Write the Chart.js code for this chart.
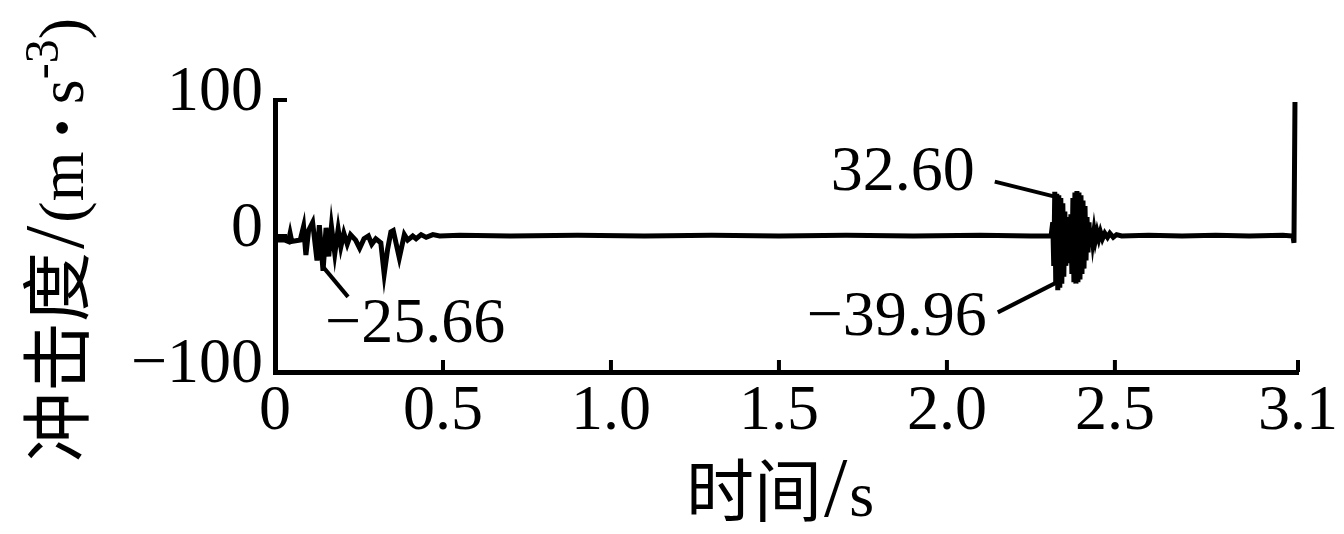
<!DOCTYPE html>
<html>
<head>
<meta charset="utf-8">
<script src="https://cdn.jsdelivr.net/npm/chart.js@4.4.1/dist/chart.umd.min.js"></script>
<style>
  html, body { margin: 0; padding: 0; background: #fff; }
  canvas { display: block; }
</style>
</head>
<body>
<canvas id="chart" width="1344" height="534"></canvas>
<script>
// Jerk signal (time in s, jerk in m/s^3)
const times = [
  0.000, 0.030, 0.040, 0.045, 0.050, 0.075, 0.085, 0.092, 0.100, 0.112,
  0.125, 0.132, 0.143, 0.152, 0.160, 0.168, 0.178, 0.188, 0.196, 0.205,
  0.215, 0.225, 0.240, 0.252, 0.265, 0.278, 0.288, 0.300, 0.315, 0.325,
  0.335, 0.345, 0.352, 0.370, 0.385, 0.395, 0.410, 0.420, 0.435, 0.450,
  0.470, 0.490,
  0.550, 0.700, 0.900, 1.100, 1.300, 1.500, 1.700, 1.900, 2.100, 2.250,
  2.310,
  2.315, 2.318, 2.321, 2.324, 2.327, 2.330, 2.333, 2.336, 2.339, 2.342,
  2.345, 2.348, 2.351, 2.354, 2.357, 2.360, 2.363, 2.366, 2.369, 2.372,
  2.375, 2.378, 2.381, 2.384, 2.387, 2.390, 2.393, 2.396, 2.399, 2.402,
  2.405, 2.408, 2.411, 2.414, 2.417, 2.420, 2.423, 2.426, 2.430, 2.434,
  2.438, 2.442, 2.447, 2.452, 2.457, 2.463, 2.470, 2.478, 2.485, 2.495,
  2.505, 2.520,
  2.600, 2.700, 2.800, 2.900, 3.000, 3.030, 3.033, 3.036,
];
const values = [
  -3, -3, -4, 2, -4, -3, 7, -14, 4, 10,
  -18, 8, -25.66, 6, -15, 7, -13, 5, -8, 2,
  -6, 1, -3, -9, -2, 0, -6, -2, -5, -28,
  -10, 3, 4, -16, 1, -3, 0, -2, 1, -1,
  1, 0,
  0.5, 0, 0.5, 0, 0.5, 0, 0.5, 0, 0.5, 0,
  0,
  10, -22, 32.6, -36, 31, -39.96, 30, -38, 28, -35,
  24, -30, 18, -22, 14, -20, 12, -18, 16, -28,
  28, -34, 32, -35, 33, -34, 32, -32, 30, -28,
  26, -24, 22, -18, 14, -12, 10, -8, 6, -4,
  4, -3, 3, -2, 3, -2, 2, -1, 2, -1,
  1, 0,
  0.5, 0, 0.5, 0, 0.5, 0, -5, 98.5,
];

const xTickValues = [0, 0.5, 1, 1.5, 2, 2.5, 3.045];
const xTickLabels = ["0", "0.5", "1.0", "1.5", "2.0", "2.5", "3.1"];
const yTickValues = [-100, 0, 100];
const yTickLabels = ["−100", "0", "100"];

// Marked extremes
const peakTimes = [0.143, 2.321, 2.327];
const peakValues = [-25.66, 32.6, -39.96];
const peakLabels = ["−25.66", "32.60", "−39.96"];

const xTitleParts = ["时间", "/", "s"];
const yTitleParts = ["冲击度", "/", "(m", "·", "s", "-3", ")"];

const serif = '"Liberation Serif", "Noto Sans CJK SC", serif';

// Leader line and label placement relative to each peak, in pixels
const leaders = [
  { from: [0, -4], to: [25, 26], text: [2, 54], align: "left" },
  { from: [-60, -10], to: [0, 5], text: [-80, -18], align: "right" },
  { from: [-59, 22], to: [0, -8], text: [-70, 28], align: "right" },
];

// Per-piece font size, baseline rise and side padding for the axis titles
const xTitleStyle = [
  { size: 68, rise: 0, pad: 0 },
  { size: 84, rise: 0, pad: 2 },
  { size: 64, rise: 0, pad: 0 },
];
const yTitleStyle = [
  { size: 70, rise: 0, pad: 0 },
  { size: 84, rise: 0, pad: 3 },
  { size: 64, rise: 0, pad: 0 },
  { size: 100, rise: -12, pad: 7 },
  { size: 64, rise: 0, pad: 0 },
  { size: 48, rise: 25, pad: 0 },
  { size: 64, rise: 0, pad: 0 },
];

const line = (ctx, x1, y1, x2, y2) => {
  ctx.beginPath();
  ctx.moveTo(x1, y1);
  ctx.lineTo(x2, y2);
  ctx.stroke();
};

// Draw pieces of text one after another, centred on the origin
const drawParts = (ctx, texts, styles) => {
  const parts = texts.map((text, i) => {
    const s = styles[i];
    ctx.font = `${s.size}px ${serif}`;
    return { text, ...s, width: ctx.measureText(text).width + 2 * s.pad };
  });
  const total = parts.reduce((sum, p) => sum + p.width, 0);
  let cursor = -total / 2;
  ctx.textAlign = "left";
  ctx.textBaseline = "alphabetic";
  parts.forEach((p) => {
    ctx.font = `${p.size}px ${serif}`;
    ctx.fillText(p.text, cursor + p.pad, -p.rise);
    cursor += p.width;
  });
};

const decorations = {
  id: "decorations",
  afterDraw(chart) {
    const { ctx, chartArea, scales } = chart;
    const { x, y } = scales;
    ctx.save();
    ctx.strokeStyle = "#000";
    ctx.fillStyle = "#000";
    ctx.lineWidth = 4;

    // Inward tick marks
    x.ticks.forEach((tick) => {
      const px = x.getPixelForValue(tick.value);
      line(ctx, px, chartArea.bottom, px, chartArea.bottom - 12);
    });
    y.ticks.forEach((tick) => {
      const py = y.getPixelForValue(tick.value);
      line(ctx, chartArea.left, py, chartArea.left + 12, py);
    });

    // Peak annotations
    ctx.font = `64px ${serif}`;
    ctx.textBaseline = "middle";
    peakTimes.forEach((t, i) => {
      const px = x.getPixelForValue(t);
      const py = y.getPixelForValue(peakValues[i]);
      const l = leaders[i];
      line(ctx, px + l.from[0], py + l.from[1], px + l.to[0], py + l.to[1]);
      ctx.textAlign = l.align;
      ctx.fillText(peakLabels[i], px + l.text[0], py + l.text[1]);
    });

    // X axis title
    ctx.save();
    ctx.translate(780, 516);
    drawParts(ctx, xTitleParts, xTitleStyle);
    ctx.restore();

    // Y axis title, rotated, with superscript
    ctx.save();
    ctx.translate(83, 240);
    ctx.rotate(-Math.PI / 2);
    drawParts(ctx, yTitleParts, yTitleStyle);
    ctx.restore();

    ctx.restore();
  },
};

const chart = new Chart(document.getElementById("chart"), {
  type: "line",
  data: {
    datasets: [
      {
        data: times.map((t, i) => ({ x: t, y: values[i] })),
        borderColor: "#000",
        borderWidth: 5,
        pointRadius: 0,
        tension: 0,
      },
    ],
  },
  options: {
    responsive: false,
    animation: false,
    devicePixelRatio: 1,
    layout: { padding: { top: 100, right: 46, left: 0, bottom: 0 } },
    plugins: { legend: { display: false }, tooltip: { enabled: false } },
    scales: {
      x: {
        type: "linear",
        min: 0,
        max: 3.045,
        grid: { display: false, drawTicks: false },
        border: { display: true, color: "#000", width: 5 },
        afterBuildTicks: (scale) => {
          scale.ticks = xTickValues.map((value) => ({ value }));
        },
        afterFit: (scale) => {
          scale.height = 162;
        },
        ticks: {
          color: "#000",
          font: { family: serif, size: 64 },
          padding: 2,
          maxRotation: 0,
          autoSkip: false,
          callback: (value, index) => xTickLabels[index],
        },
      },
      y: {
        min: -100,
        max: 100,
        grid: { display: false, drawTicks: false },
        border: { display: true, color: "#000", width: 5 },
        afterBuildTicks: (scale) => {
          scale.ticks = yTickValues.map((value) => ({ value }));
        },
        afterFit: (scale) => {
          scale.width = 275;
        },
        ticks: {
          color: "#000",
          font: { family: serif, size: 64 },
          padding: 12,
          labelOffset: -7,
          callback: (value, index) => yTickLabels[index],
        },
      },
    },
  },
  plugins: [decorations],
});
</script>
</body>
</html>
